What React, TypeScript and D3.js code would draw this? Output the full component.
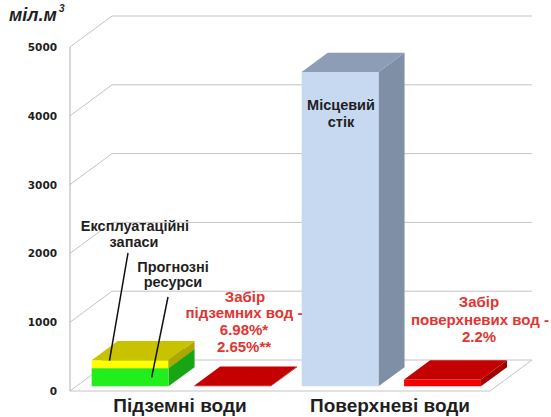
import React from 'react';
import * as d3 from 'd3';

// Water balance: resources vs withdrawal, million m³
const categories = ['Підземні води', 'Поверхневі води'];
const slots = ['ресурси', 'забір'];
const baseValues = [262, 4570]; // groundwater prognostic layer / local runoff
const upperValues = [118, 0]; // exploitation reserves layer stacked on groundwater
const withdrawalValues = [10, 100];
const yTicks = [0, 1000, 2000, 3000, 4000, 5000];

const W = 551;
const H = 417;
const FONT = '"Liberation Sans", Arial, sans-serif';
const TICK_FONT = '"DejaVu Sans", Verdana, sans-serif';
const DARK = '#1f1f1f';
const RED_TEXT = '#e03530';
const GRID = '#c4c4c4';

// oblique depth vector of the floor and the depth slice taken by the boxes
const DX = 42;
const DY = -31;
const F0 = 0.15;
const F1 = 0.77;

interface BoxColors {
  front: string;
  top: string;
  side: string;
}

const y = d3.scaleLinear().domain([0, 5000]).range([391, 47]);
const xOuter = d3.scaleBand<string>().domain(categories).range([70, 490]);
const xInner = d3
  .scaleBand<string>()
  .domain(slots)
  .range([0, xOuter.bandwidth()])
  .paddingInner(0.25)
  .paddingOuter(0.15)
  .align(0.5);

const pt = (x: number, yy: number, f: number): [number, number] => [x + DX * f, yy + DY * f];
const poly = (pts: [number, number][]) => 'M' + pts.map((p) => p.join(',')).join('L') + 'Z';

function Box({ x, w, v0, v1, c }: { x: number; w: number; v0: number; v1: number; c: BoxColors }) {
  const yb = y(v0);
  const yt = y(v1);
  const front = poly([pt(x, yt, F0), pt(x + w, yt, F0), pt(x + w, yb, F0), pt(x, yb, F0)]);
  const top = poly([pt(x, yt, F0), pt(x + w, yt, F0), pt(x + w, yt, F1), pt(x, yt, F1)]);
  const side = poly([pt(x + w, yt, F0), pt(x + w, yt, F1), pt(x + w, yb, F1), pt(x + w, yb, F0)]);
  return (
    <g>
      <path d={side} fill={c.side} />
      <path d={front} fill={c.front} />
      <path d={top} fill={c.top} />
    </g>
  );
}

const greenC: BoxColors = { front: '#22ee1e', top: '#19b016', side: '#17a514' };
const yellowC: BoxColors = { front: '#ffff00', top: '#c8c200', side: '#b0a600' };
const blueC: BoxColors = { front: '#c6d9f1', top: '#8d9db5', side: '#7f8fa6' };
const redC: BoxColors = { front: '#f40000', top: '#c40000', side: '#a30000' };

export default function App() {
  const bw = xInner.bandwidth();
  const x0 = xOuter.range()[0];
  const x1 = xOuter.range()[1];

  const gx = xOuter(categories[0])! + xInner(slots[0])!;
  const greenTop = baseValues[0];
  const yellowTop = baseValues[0] + upperValues[0];

  // pointer targets on the groundwater stack
  const p1 = pt(gx + 17, y(yellowTop) + 1, F0 + 0.02);
  const p2 = pt(gx + 60, (y(greenTop) + y(0)) / 2, F0);

  return (
    <svg
      width={W}
      height={H}
      viewBox={`0 0 ${W} ${H}`}
      style={{ position: 'absolute', left: 0, top: 0, background: '#fff' }}
    >
      {/* walls and floor */}
      <g fill="none" stroke={GRID} strokeWidth={1}>
        {yTicks.map((t) => (
          <path key={t} d={`M${x0},${y(t)}L${x0 + DX},${y(t) + DY}L${x1 + DX},${y(t) + DY}`} />
        ))}
        <path d={`M${x0},${y(0)}L${x1},${y(0)}L${x1 + DX},${y(0) + DY}`} />
        <path d={`M${x0},${y(0)}L${x0},${y(5000)}`} stroke="#b0b0b0" />
      </g>

      {/* tick labels */}
      <g fontFamily={TICK_FONT} fontWeight="bold" fontSize={10.5} fill={DARK} textAnchor="end">
        {yTicks.map((t) => (
          <text key={t} x={57} y={y(t) + 4}>
            {t}
          </text>
        ))}
      </g>

      {/* unit */}
      <text x={9} y={21} fontFamily={FONT} fontWeight="bold" fontStyle="italic" fontSize={18} fill={DARK}>
        міл.м
      </text>
      <text x={59} y={12} fontFamily={FONT} fontWeight="bold" fontStyle="italic" fontSize={10} fill={DARK}>
        3
      </text>

      {/* bars */}
      {categories.map((cat, i) => {
        const xr = xOuter(cat)! + xInner(slots[0])!;
        const xw = xOuter(cat)! + xInner(slots[1])!;
        return (
          <g key={cat}>
            <Box x={xr} w={bw} v0={0} v1={baseValues[i]} c={i === 0 ? greenC : blueC} />
            {upperValues[i] > 0 && (
              <Box x={xr} w={bw} v0={baseValues[i]} v1={baseValues[i] + upperValues[i]} c={yellowC} />
            )}
            <Box x={xw} w={bw} v0={0} v1={withdrawalValues[i]} c={redC} />
          </g>
        );
      })}

      {/* pointers */}
      <g stroke="#111" strokeWidth={1.5}>
        <line x1={128} y1={253} x2={p1[0]} y2={p1[1]} />
        <line x1={168} y1={297} x2={p2[0]} y2={p2[1]} />
      </g>

      {/* annotations */}
      <g fontFamily={FONT} fontWeight="bold" fontSize={14.5} textAnchor="middle" fill={DARK}>
        <text x={135} y={231}>Експлуатаційні</text>
        <text x={134} y={247}>запаси</text>
        <text x={173} y={272}>Прогнозні</text>
        <text x={173} y={287}>ресурси</text>
        <text x={341} y={110}>Місцевий</text>
        <text x={341} y={127}>стік</text>
      </g>
      <g fontFamily={FONT} fontWeight="bold" fontSize={15} textAnchor="middle" fill={RED_TEXT}>
        <text x={245} y={301.5}>Забір</text>
        <text x={244} y={318}>підземних вод -</text>
        <text x={244} y={335}>6.98%*</text>
        <text x={244} y={351.5}>2.65%**</text>
        <text x={479} y={307}>Забір</text>
        <text x={480} y={325}>поверхневих вод -</text>
        <text x={479} y={342}>2.2%</text>
      </g>

      {/* category labels */}
      <g fontFamily={FONT} fontWeight="bold" fontSize={19} textAnchor="middle" fill={DARK}>
        {categories.map((cat) => (
          <text key={cat} x={xOuter(cat)! + xOuter.bandwidth() / 2 + 5} y={412}>
            {cat}
          </text>
        ))}
      </g>
    </svg>
  );
}
